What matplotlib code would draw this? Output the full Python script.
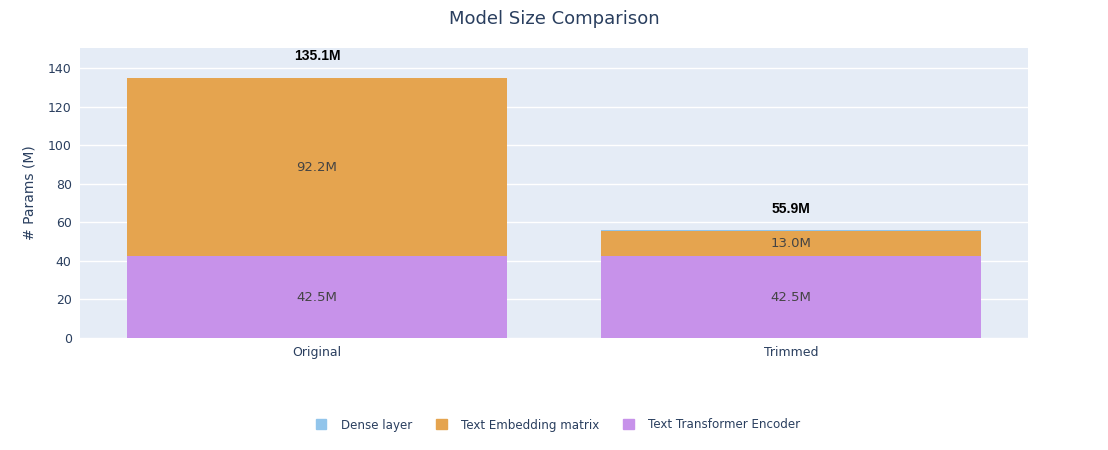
import matplotlib
matplotlib.use("Agg")
import matplotlib.pyplot as plt
import numpy as np

models = ["Original", "Trimmed"]
series = ["Text Transformer Encoder", "Text Embedding matrix", "Dense layer"]
encoder = [42.5, 42.5]
embedding = [92.2, 13.0]
dense = [0.4, 0.4]
totals = [135.1, 55.9]

COLORS = {
    "Dense layer": "#92c5eb",
    "Text Embedding matrix": "#e5a44f",
    "Text Transformer Encoder": "#c792ea",
}
TXT = "#2a3f5f"

plt.rcParams["font.family"] = ["Liberation Sans", "DejaVu Sans"]

fig = plt.figure(figsize=(11.08, 4.5), dpi=100)
ax = fig.add_axes([80 / 1108, 112 / 450, 948 / 1108, 290 / 450])
ax.set_facecolor("#e5ecf6")
for s in ax.spines.values():
    s.set_visible(False)

x = np.arange(len(models))
w = 0.8
b_enc = ax.bar(x, encoder, w, color=COLORS["Text Transformer Encoder"], zorder=2)
b_emb = ax.bar(x, embedding, w, bottom=encoder, color=COLORS["Text Embedding matrix"], zorder=2)
bottom2 = [a + b for a, b in zip(encoder, embedding)]
b_den = ax.bar(x, dense, w, bottom=bottom2, color=COLORS["Dense layer"], zorder=2)

for bars, vals, bots in ((b_enc, encoder, [0, 0]), (b_emb, embedding, encoder)):
    for r, v, b in zip(bars, vals, bots):
        ax.text(r.get_x() + r.get_width() / 2, b + v / 2, f"{v:.1f}M",
                ha="center", va="center", fontsize=9.5, color="#444444", zorder=3,
                family=["DejaVu Sans"])

for i, t in enumerate(totals):
    ax.text(x[i], t + 7.5, f"{t:.1f}M", ha="center", va="bottom",
            fontsize=10, fontweight="bold", color="black", zorder=3)

ax.set_xlim(-0.5, 1.5)
ax.set_ylim(0, 150.4)
ax.set_yticks(range(0, 141, 20))
ax.set_xticks(x)
ax.set_xticklabels(models)
ax.grid(axis="y", color="white", linewidth=1, zorder=1)
ax.set_axisbelow(True)
ax.tick_params(length=0, labelsize=9.5, colors=TXT, pad=6)
for lab in ax.get_xticklabels() + ax.get_yticklabels():
    lab.set_family(["DejaVu Sans"])
    lab.set_fontsize(9)
ax.set_ylabel("# Params (M)", fontsize=10, color=TXT, labelpad=8, family=["DejaVu Sans"])

fig.text(0.5, 1 - 19 / 450, "Model Size Comparison", ha="center", va="center",
         fontsize=13, color=TXT, family=["DejaVu Sans"])

names = ["Dense layer", "Text Embedding matrix", "Text Transformer Encoder"]
handles = [plt.Rectangle((0, 0), 1, 1, color=COLORS[n]) for n in names]
leg = fig.legend(handles, names,
                 loc="center", bbox_to_anchor=(558 / 1108, 1 - 425 / 450), ncol=3,
                 frameon=False, handlelength=0.9, handleheight=0.9, handletextpad=1.2,
                 columnspacing=2.0, prop={"family": ["DejaVu Sans"], "size": 8.6})
for t in leg.get_texts():
    t.set_color(TXT)

fig.savefig("out.png", dpi=100)
